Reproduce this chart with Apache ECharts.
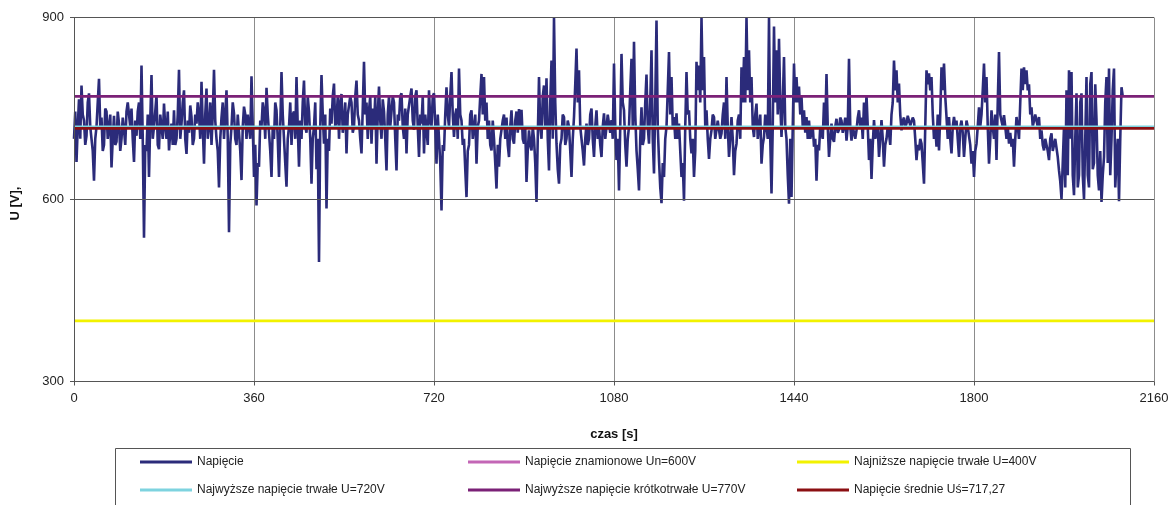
<!DOCTYPE html>
<html>
<head>
<meta charset="utf-8">
<script src="https://cdn.jsdelivr.net/npm/echarts@6/dist/echarts.min.js"></script>
<style>
  html, body { margin: 0; padding: 0; background: #ffffff; }
  #chart { width: 1169px; height: 505px; }
</style>
</head>
<body>
<div id="chart"></div>
<script>
// Voltage record, one sample every SAMPLE_STEP seconds starting at t = 0 s
const SAMPLE_STEP = 2.5;
const voltage = [
  700, 745, 662, 720, 765, 700, 788, 740, 730, 690, 705, 760, 775, 720, 700, 680, 631, 700, 720, 760,
  799, 720, 735, 680, 690, 750, 745, 700, 700, 740, 653, 700, 738, 690, 695, 745, 725, 680, 700, 735,
  715, 690, 745, 760, 758, 720, 750, 700, 662, 730, 705, 745, 760, 700, 821, 700, 537, 690, 680, 740,
  637, 730, 805, 700, 720, 745, 772, 690, 683, 740, 740, 700, 758, 720, 700, 745, 681, 710, 725, 690,
  747, 690, 700, 740, 814, 700, 725, 760, 780, 700, 675, 730, 710, 755, 736, 690, 700, 740, 725, 760,
  740, 700, 794, 720, 659, 740, 783, 700, 720, 760, 690, 740, 814, 730, 700, 680, 620, 700, 735, 760,
  700, 740, 780, 700, 546, 690, 720, 760, 742, 700, 690, 740, 710, 680, 632, 720, 753, 740, 700, 740,
  740, 700, 803, 720, 637, 690, 590, 660, 654, 730, 720, 760, 745, 700, 784, 740, 710, 680, 637, 720,
  700, 760, 747, 700, 637, 720, 810, 740, 700, 660, 621, 700, 720, 760, 690, 740, 745, 700, 802, 720,
  654, 730, 700, 760, 796, 720, 710, 770, 745, 700, 626, 700, 720, 760, 650, 700, 497, 720, 805, 740,
  692, 740, 585, 700, 680, 750, 725, 770, 791, 720, 730, 770, 700, 760, 774, 710, 730, 760, 676, 740,
  740, 770, 760, 710, 720, 770, 796, 740, 730, 700, 676, 750, 827, 740, 760, 700, 747, 770, 692, 750,
  720, 770, 659, 740, 786, 730, 700, 765, 745, 700, 648, 740, 770, 720, 745, 770, 760, 700, 648, 740,
  730, 770, 775, 720, 700, 750, 676, 740, 740, 770, 783, 730, 715, 770, 780, 720, 670, 740, 725, 770,
  676, 740, 740, 690, 780, 730, 720, 770, 775, 720, 659, 740, 700, 660, 582, 690, 680, 740, 785, 740,
  720, 770, 810, 740, 703, 740, 750, 700, 816, 740, 730, 690, 700, 650, 604, 680, 690, 740, 747, 700,
  700, 740, 659, 720, 730, 770, 807, 740, 802, 730, 760, 700, 730, 690, 681, 730, 700, 660, 618, 690,
  654, 700, 700, 730, 740, 700, 735, 690, 670, 720, 747, 700, 692, 730, 745, 710, 749, 720, 748, 700,
  692, 720, 629, 680, 714, 690, 681, 720, 700, 660, 596, 700, 802, 720, 700, 770, 788, 720, 800, 700,
  648, 760, 829, 700, 900, 760, 692, 650, 626, 690, 700, 740, 736, 690, 700, 730, 720, 680, 637, 700,
  736, 790, 849, 760, 813, 720, 700, 680, 656, 700, 725, 690, 700, 740, 750, 700, 670, 720, 747, 700,
  720, 690, 670, 720, 742, 700, 700, 740, 742, 710, 731, 700, 824, 720, 665, 700, 615, 720, 840, 760,
  747, 690, 654, 700, 720, 780, 832, 720, 860, 740, 681, 650, 615, 700, 752, 690, 700, 760, 806, 720,
  692, 760, 846, 700, 643, 760, 895, 720, 665, 620, 594, 660, 637, 700, 720, 780, 843, 740, 802, 720,
  736, 700, 742, 700, 725, 680, 637, 660, 598, 720, 810, 740, 747, 700, 676, 700, 637, 680, 827, 780,
  821, 760, 900, 780, 835, 720, 747, 700, 667, 700, 714, 740, 736, 700, 700, 730, 731, 700, 709, 740,
  760, 700, 802, 720, 670, 700, 736, 700, 640, 680, 692, 730, 740, 700, 818, 760, 835, 760, 900, 780,
  846, 760, 802, 720, 703, 740, 758, 700, 700, 740, 659, 690, 703, 740, 740, 700, 900, 700, 610, 720,
  885, 760, 846, 740, 865, 760, 703, 760, 835, 720, 700, 640, 593, 700, 604, 720, 824, 760, 802, 760,
  786, 740, 770, 720, 747, 710, 736, 700, 730, 700, 700, 720, 687, 700, 631, 690, 681, 720, 720, 700,
  760, 720, 807, 720, 670, 700, 725, 700, 695, 720, 733, 710, 715, 735, 730, 710, 720, 735, 697, 720,
  832, 720, 697, 720, 720, 700, 714, 735, 747, 720, 735, 700, 760, 720, 772, 720, 665, 700, 634, 690,
  731, 700, 700, 720, 670, 700, 731, 700, 654, 690, 700, 720, 709, 690, 740, 760, 829, 780, 813, 760,
  791, 740, 714, 730, 735, 720, 725, 738, 738, 722, 720, 735, 730, 700, 665, 690, 681, 700, 692, 660,
  626, 720, 813, 790, 808, 780, 802, 740, 700, 720, 687, 740, 681, 740, 818, 780, 824, 770, 736, 700,
  736, 700, 676, 720, 736, 720, 730, 700, 670, 720, 730, 710, 670, 700, 730, 720, 720, 690, 659, 680,
  637, 680, 692, 720, 752, 720, 740, 780, 824, 760, 802, 720, 659, 700, 747, 720, 700, 740, 665, 760,
  843, 740, 730, 720, 739, 720, 700, 720, 692, 710, 687, 700, 654, 700, 736, 720, 700, 760, 816, 780,
  818, 790, 813, 780, 790, 740, 752, 720, 720, 740, 740, 720, 736, 700, 714, 690, 681, 700, 700, 680,
  665, 700, 709, 680, 681, 700, 700, 670, 648, 630, 601, 660, 720, 620, 780, 640, 813, 700, 810, 640,
  607, 700, 775, 620, 640, 760, 775, 640, 601, 700, 802, 640, 620, 790, 810, 650, 660, 790, 731, 640,
  615, 680, 596, 640, 670, 760, 802, 660, 816, 640, 700, 780, 816, 620, 664, 700, 597, 700, 785, 770
];

// Reference levels [V]
const levelNames = [
  'Napięcie znamionowe Un=600V',
  'Najniższe napięcie trwałe U=400V',
  'Najwyższe napięcie trwałe U=720V',
  'Najwyższe napięcie krótkotrwałe U=770V',
  'Napięcie średnie Uś=717,27'
];
const levelValues = [600, 400, 720, 770, 717.27];
const levelColors = ['#C366B6', '#F2F200', '#7ED3DF', '#7B2177', '#8B0F12'];

const seriesName = 'Napięcie';
const seriesColor = '#2B2B7A';

// Axis settings
const timeMax = 2160;
const timeStep = 360;
const uMin = 300, uMax = 900, uStep = 300;

const FONT = '"Liberation Sans", Arial, sans-serif';

const voltagePoints = voltage.map((v, i) => [i * SAMPLE_STEP, v]);

const series = [{
  name: seriesName,
  type: 'line',
  data: voltagePoints,
  symbol: 'none',
  lineStyle: { color: seriesColor, width: 2.6 },
  itemStyle: { color: seriesColor },
  z: 2,
  animation: false
}];
levelNames.forEach((n, k) => {
  // the nominal level is a thin line lying under the 600 V grid line
  series.push({
    name: n,
    type: 'line',
    data: [[0, levelValues[k]], [timeMax, levelValues[k]]],
    symbol: 'none',
    lineStyle: { color: levelColors[k], width: k === 0 ? 1 : 2.6 },
    itemStyle: { color: levelColors[k] },
    z: k === 0 ? 1 : 3,
    animation: false
  });
});

const legendText = { fontFamily: FONT, fontSize: 12, color: '#222' };
function legendColumn(names, left) {
  return {
    data: names,
    orient: 'vertical',
    left: left,
    top: 456,
    padding: 0,
    icon: 'rect',
    itemWidth: 52,
    itemHeight: 3,
    itemGap: 16,
    selectedMode: false,
    textStyle: legendText
  };
}

const chart = echarts.init(document.getElementById('chart'), null, { renderer: 'canvas' });
chart.setOption({
  animation: false,
  backgroundColor: '#ffffff',
  grid: { left: 74, right: 15, top: 17.5, bottom: 123.5, containLabel: false, outerBoundsMode: 'none' },
  xAxis: {
    type: 'value',
    min: 0,
    max: timeMax,
    interval: timeStep,
    name: 'czas [s]',
    nameLocation: 'middle',
    nameGap: 46,
    nameTextStyle: { fontFamily: FONT, fontSize: 13, fontWeight: 'bold', color: '#111' },
    axisLine: { show: true, onZero: false, lineStyle: { color: '#555', width: 1 } },
    axisTick: { show: true, length: 4, lineStyle: { color: '#555' } },
    axisLabel: { fontFamily: FONT, fontSize: 13, color: '#222', margin: 10, formatter: v => String(v) },
    splitLine: { show: true, lineStyle: { color: '#8c8c8c', width: 1 } }
  },
  yAxis: {
    type: 'value',
    min: uMin,
    max: uMax,
    interval: uStep,
    zlevel: 1,
    name: 'U [V],',
    nameLocation: 'middle',
    nameGap: 52,
    nameRotate: 90,
    nameTextStyle: { fontFamily: FONT, fontSize: 13, fontWeight: 'bold', color: '#111', padding: [0, 8, 0, 0] },
    axisLine: { show: true, lineStyle: { color: '#555', width: 1 } },
    axisTick: { show: true, length: 4, lineStyle: { color: '#555' } },
    axisLabel: { fontFamily: FONT, fontSize: 13, color: '#222', margin: 10, formatter: v => String(v) },
    splitLine: { show: true, lineStyle: { color: '#555', width: 1 } }
  },
  legend: [
    legendColumn([seriesName, levelNames[2]], 140),
    legendColumn([levelNames[0], levelNames[3]], 468),
    legendColumn([levelNames[1], levelNames[4]], 797)
  ],
  graphic: [{
    type: 'rect',
    shape: { x: 115.5, y: 448.5, width: 1015, height: 70 },
    style: { fill: 'none', stroke: '#555', lineWidth: 1 },
    silent: true
  }],
  series: series
});
</script>
</body>
</html>
